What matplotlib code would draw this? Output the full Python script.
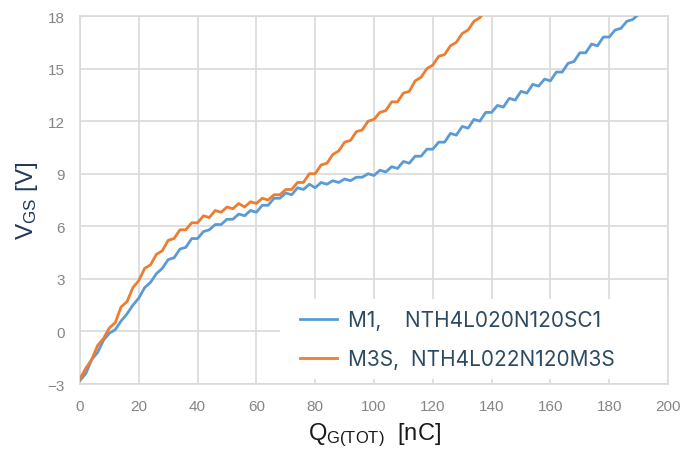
import matplotlib
matplotlib.use("Agg")
import matplotlib.pyplot as plt

# gate charge readings, every 2 nC
q_m1 = list(range(0, 192, 2))
vgs_m1 = [-2.8, -2.4, -1.6, -1.2, -0.5, -0.1, 0.1, 0.6, 1.0, 1.5,
          1.9, 2.5, 2.8, 3.3, 3.6, 4.1, 4.2, 4.7, 4.8, 5.3,
          5.3, 5.7, 5.8, 6.1, 6.1, 6.4, 6.4, 6.7, 6.6, 6.9,
          6.8, 7.2, 7.2, 7.6, 7.6, 7.9, 7.8, 8.2, 8.1, 8.4,
          8.2, 8.5, 8.4, 8.6, 8.5, 8.7, 8.6, 8.8, 8.8, 9.0,
          8.9, 9.2, 9.1, 9.4, 9.3, 9.7, 9.6, 10.0, 10.0, 10.4,
          10.4, 10.8, 10.8, 11.3, 11.2, 11.7, 11.6, 12.1, 12.0, 12.5,
          12.5, 12.9, 12.8, 13.3, 13.2, 13.7, 13.6, 14.1, 14.0, 14.4,
          14.3, 14.8, 14.8, 15.3, 15.4, 15.9, 15.9, 16.4, 16.3, 16.8,
          16.8, 17.2, 17.3, 17.7, 17.8, 18.1]

q_m3s = list(range(0, 140, 2))
vgs_m3s = [-2.7, -2.1, -1.6, -0.8, -0.4, 0.2, 0.5, 1.4, 1.7, 2.5,
           2.9, 3.6, 3.8, 4.4, 4.6, 5.2, 5.3, 5.8, 5.8, 6.2,
           6.2, 6.6, 6.5, 6.9, 6.8, 7.1, 7.0, 7.3, 7.1, 7.4,
           7.3, 7.6, 7.5, 7.8, 7.8, 8.1, 8.1, 8.5, 8.5, 9.0,
           9.0, 9.5, 9.6, 10.1, 10.3, 10.8, 10.9, 11.4, 11.5, 12.0,
           12.1, 12.5, 12.6, 13.1, 13.1, 13.6, 13.7, 14.3, 14.5, 15.0,
           15.2, 15.7, 15.8, 16.3, 16.5, 17.0, 17.2, 17.7, 17.9, 18.4]

labels = ["M1,    NTH4L020N120SC1", "M3S,  NTH4L022N120M3S"]
xticks = [0, 20, 40, 60, 80, 100, 120, 140, 160, 180, 200]
yticks = [-3, 0, 3, 6, 9, 12, 15, 18]

plt.rcParams['font.family'] = ['Liberation Sans', 'DejaVu Sans']

fig, ax = plt.subplots(figsize=(6.8, 4.56), dpi=100)
fig.subplots_adjust(left=0.1176, right=0.9824, top=0.9627, bottom=0.1557)

ax.plot(q_m1, vgs_m1, color='#5B9BD5', lw=2.0, label=labels[0], zorder=3)
ax.plot(q_m3s, vgs_m3s, color='#ED7D31', lw=2.0, label=labels[1], zorder=4)

ax.set_xlim(0, 200)
ax.set_ylim(-3, 18)
ax.set_xticks(xticks)
ax.set_yticks(yticks)
ax.tick_params(length=0, labelsize=11, labelcolor='#858585', pad=11)
ax.grid(True, color='#d9d9d9', lw=1.2)
ax.set_axisbelow(True)
for s in ax.spines.values():
    s.set_color('#d9d9d9')
    s.set_linewidth(1.2)

# white legend panel covering the grid
ax.add_patch(plt.Rectangle((0.34, 0.014), 0.66, 0.217, transform=ax.transAxes,
                           facecolor='white', edgecolor='none', zorder=2))
leg = ax.legend(loc='center left', bbox_to_anchor=(0.374, 0.12), frameon=False,
                borderpad=0, borderaxespad=0, handlelength=1.8, handletextpad=0.5,
                labelspacing=0.9, prop={'family': 'Inter', 'size': 15})
for t in leg.get_texts():
    t.set_color('#2E4A62')

ax.set_ylabel(r'$\mathregular{V_{GS}}$ [V]', fontsize=17.5, color='#1F3A5A', labelpad=5)
ax.set_xlabel(r'$\mathregular{Q_{G(TOT)}}$  [nC]', fontsize=17, color='#1a1a1a', labelpad=5)

fig.savefig('out.png', dpi=100)
